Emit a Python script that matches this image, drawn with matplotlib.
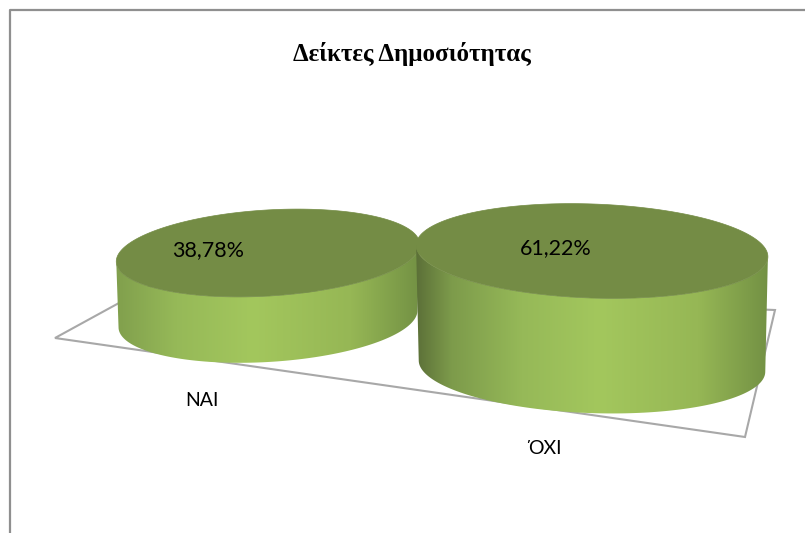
import numpy as np
import matplotlib
matplotlib.use("Agg")
import matplotlib.pyplot as plt
from matplotlib.patches import Polygon
from matplotlib.colors import LinearSegmentedColormap

# data
categories = ["ΝΑΙ", "ΌΧΙ"]
values = [38.78, 61.22]
title = "Δείκτες Δημοσιότητας"

# layout of the 3d look, in pixels
centers_x = [268, 592]
centers_y = [253, 251]
radius_x = [152, 176]
radius_y = [43, 47]
tilts = [-3.5, 2]
px_per_percent = [1.70, 1.88]
grad_pad = [45, 0]
value_label_pos = [(208, 250), (556, 248)]
cat_label_pos = [(202, 400), (545, 448)]
floor = [(150, 286), (55, 338), (745, 437), (775, 310)]

side_cmap = LinearSegmentedColormap.from_list("side", [
    (0.0, "#5c7038"), (0.10, "#7d9b4b"), (0.30, "#96b958"),
    (0.52, "#a3c75d"), (0.80, "#96b755"), (1.0, "#739144")])
top_color = "#748c45"
border_color = "#8f8f8f"
floor_color = "#a8a8a8"


def ellipse(cx, cy, rx, ry, tilt, t):
    a = np.radians(tilt)
    x = cx + rx * np.cos(t) * np.cos(a) - ry * np.sin(t) * np.sin(a)
    y = cy + rx * np.cos(t) * np.sin(a) + ry * np.sin(t) * np.cos(a)
    return np.column_stack([x, y])


fig = plt.figure(figsize=(8.05, 5.33), dpi=100)
ax = fig.add_axes([0, 0, 1, 1])
ax.set_xlim(0, 805)
ax.set_ylim(533, 0)
ax.axis("off")

# chart border, only top and left show
ax.plot([10, 10, 805], [533, 10, 10], color=border_color, lw=1.6, zorder=1)

# floor
ax.add_patch(Polygon(floor, closed=True, fill=False, edgecolor=floor_color, lw=1.5,
                     joinstyle="miter", zorder=2))

grad = np.linspace(0, 1, 256).reshape(1, -1)
for i in range(len(values)):
    cx, cy = centers_x[i], centers_y[i]
    rx, ry = radius_x[i], radius_y[i]
    h = values[i] * px_per_percent[i]
    a = np.radians(tilts[i])
    t0 = np.arctan2(-ry * np.sin(a), rx * np.cos(a))
    t = np.linspace(t0, t0 + np.pi, 120)

    # side wall: lower half of the top ellipse and of the shifted bottom one
    upper = ellipse(cx, cy, rx, ry, tilts[i], t)
    lower = ellipse(cx, cy + h, rx * 0.985, ry, tilts[i], t)
    outline = np.vstack([upper, lower[::-1]])
    side = Polygon(outline, closed=True, facecolor="none", edgecolor="none", zorder=3 + i * 3)
    ax.add_patch(side)
    im = ax.imshow(grad, cmap=side_cmap, aspect="auto",
                   extent=[cx - rx - grad_pad[i], cx + rx, cy + h + ry + 5, cy - ry - 5],
                   zorder=3 + i * 3, interpolation="bilinear")
    im.set_clip_path(side)

    full = ellipse(cx, cy, rx, ry, tilts[i], np.linspace(0, 2 * np.pi, 240))
    ax.add_patch(Polygon(full, closed=True, facecolor=top_color, edgecolor=top_color,
                         lw=0.5, zorder=4 + i * 3))

ax.set_xlim(0, 805)
ax.set_ylim(533, 0)

for i in range(len(values)):
    label = f"{values[i]:.2f}%".replace(".", ",")
    ax.text(*value_label_pos[i], label, family="Lato", fontsize=15.5, color="black",
            ha="center", va="center", zorder=10)
    ax.text(*cat_label_pos[i], categories[i], family="Lato", fontsize=14, color="black",
            ha="center", va="center", zorder=10)

ax.text(412, 54, title, family="Liberation Serif", fontweight="bold", fontsize=18,
        color="black", ha="center", va="center", zorder=10)

fig.savefig("out.png", dpi=100)
